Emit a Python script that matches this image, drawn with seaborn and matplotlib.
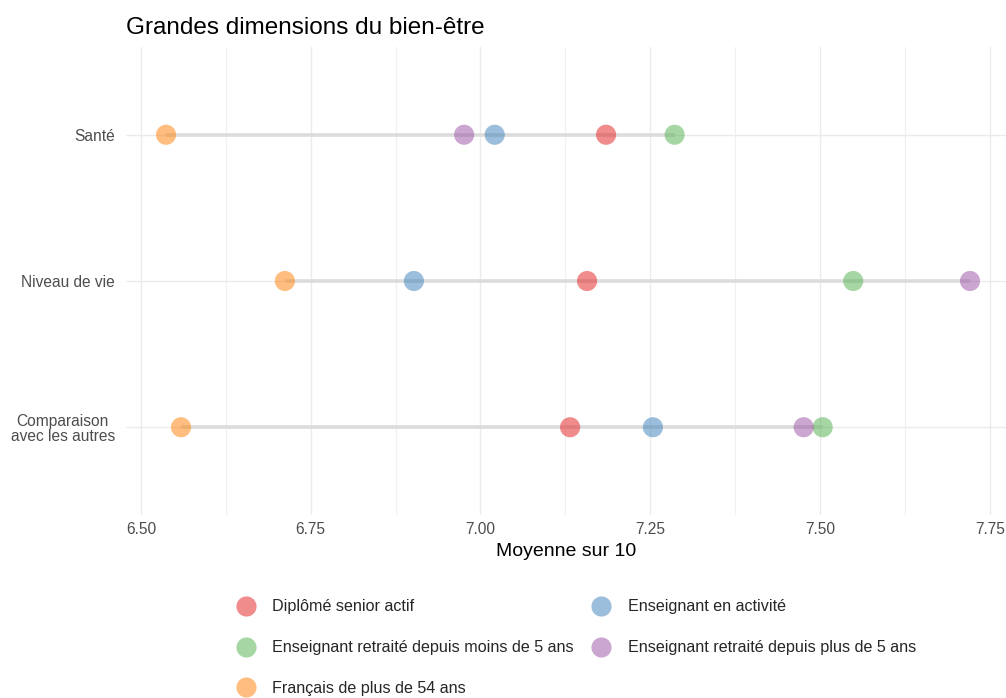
import matplotlib
matplotlib.use("Agg")
import matplotlib.pyplot as plt
import seaborn as sns
import pandas as pd
from matplotlib.lines import Line2D
from matplotlib.ticker import MultipleLocator

dimensions = ["Santé", "Niveau de vie", "Comparaison\navec les autres"]
groups = [
    "Diplômé senior actif",
    "Enseignant en activité",
    "Enseignant retraité depuis moins de 5 ans",
    "Enseignant retraité depuis plus de 5 ans",
    "Français de plus de 54 ans",
]
diplome_senior = [7.185, 7.157, 7.132]
enseignant_actif = [7.021, 6.902, 7.254]
retraite_moins_5 = [7.286, 7.549, 7.504]
retraite_plus_5 = [6.976, 7.721, 7.476]
francais_54 = [6.537, 6.712, 6.559]

colors = ["#E41A1C", "#377EB8", "#4DAF4A", "#984EA3", "#FF7F00"]

series = [diplome_senior, enseignant_actif, retraite_moins_5, retraite_plus_5, francais_54]
rows = []
for g, vals in zip(groups, series):
    for d, v in zip(dimensions, vals):
        rows.append({"dimension": d, "groupe": g, "moyenne": v})
df = pd.DataFrame(rows)

sns.set_theme(style="white")
plt.rcParams["font.family"] = ["Liberation Sans", "DejaVu Sans"]

fig = plt.figure(figsize=(10.06, 6.98), dpi=100)
ax = fig.add_axes([126 / 1006, 1 - 515 / 698, 880 / 1006, 468 / 698])

# segments min -> max per dimension
rng = df.groupby("dimension", sort=False)["moyenne"].agg(["min", "max"]).reindex(dimensions)
ypos = {d: i for i, d in enumerate(dimensions)}
df["y"] = df["dimension"].map(ypos)
ax.hlines([ypos[d] for d in rng.index], rng["min"], rng["max"],
          color="#DCDCDC", linewidth=2.6, zorder=1)

sns.scatterplot(data=df, x="moyenne", y="y", hue="groupe", hue_order=groups,
                palette=colors, s=210, alpha=0.5, edgecolor="none",
                legend=False, ax=ax, zorder=3)

ax.set_xlim(6.478, 7.774)
ax.set_ylim(len(dimensions) - 1 + 0.6, -0.6)
ax.set_yticks(range(len(dimensions)))
ax.set_yticklabels(dimensions, ha="right", multialignment="center", linespacing=1.0)
ax.xaxis.set_minor_locator(MultipleLocator(0.125))
ax.set_xticks([6.5, 6.75, 7.0, 7.25, 7.5, 7.75])
ax.set_xticklabels(["6.50", "6.75", "7.00", "7.25", "7.50", "7.75"])

ax.grid(which="major", axis="both", color="#EBEBEB", linewidth=1.0, zorder=0)
ax.grid(which="minor", axis="x", color="#F0F0F0", linewidth=0.9, zorder=0)
ax.set_axisbelow(True)
for sp in ax.spines.values():
    sp.set_visible(False)
ax.tick_params(axis="both", which="both", length=0, labelsize=11.2, labelcolor="#4D4D4D")
ax.tick_params(axis="x", pad=5)
ax.tick_params(axis="y", pad=8)

ax.set_xlabel("Moyenne sur 10", fontsize=14, color="black", labelpad=4)
ax.set_ylabel("")
ax.set_title("Grandes dimensions du bien-être", loc="left", fontsize=17.5,
             color="black", pad=9)

# legend below: order arranged for column-major filling
order = [0, 2, 4, 1, 3]
handles = [Line2D([], [], marker="o", linestyle="", markersize=14.5,
                  markerfacecolor=colors[i], markeredgecolor="none", alpha=0.5)
           for i in order]
labels = [groups[i] for i in order]
fig.legend(handles, labels, ncol=2, loc="upper left",
           bbox_to_anchor=(220 / 1006, 1 - 585 / 698), frameon=False,
           fontsize=11.6, labelspacing=1.6, handletextpad=0.95,
           columnspacing=1.0, handlelength=1.4)

fig.savefig("out.png", dpi=100)
